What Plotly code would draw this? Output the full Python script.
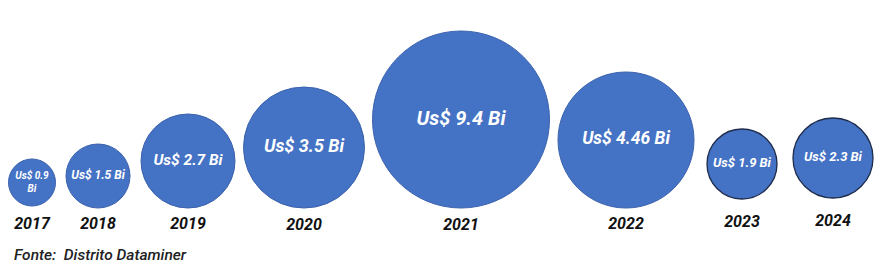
import plotly.graph_objects as go

# ---- data ----
years = ["2017", "2018", "2019", "2020", "2021", "2022", "2023", "2024"]
values_bi = [0.9, 1.5, 2.7, 3.5, 9.4, 4.46, 1.9, 2.3]
value_labels = ["Us$ 0.9<br>Bi", "Us$ 1.5 Bi", "Us$ 2.7 Bi", "Us$ 3.5 Bi",
                "Us$ 9.4 Bi", "Us$ 4.46 Bi", "Us$ 1.9 Bi", "Us$ 2.3 Bi"]
source_text = "Fonte:\u00a0 Distrito Dataminer"

# ---- style (pixel layout) ----
W, H = 888, 270
diameters = [47, 64, 94, 121, 177, 136, 70, 80]
gaps = [10.5, 11, 8.5, 8, 8.5, 13, 16]
first_left = 8.5
bottoms = [206, 208, 208, 208, 208, 208, 199, 198]
year_label_y = [225, 225, 225, 226, 226, 225, 223, 222]
label_sizes = [10, 12, 15.5, 18, 20, 17.5, 13, 13]
line_colors = ["#3b62ad"] * 6 + ["#1e2b4a"] * 2
line_widths = [1] * 6 + [1.3] * 2

# compute centres from diameters and gaps
centers_x = []
left = first_left
for i, d in enumerate(diameters):
    centers_x.append(left + d / 2)
    left += d + (gaps[i] if i < len(gaps) else 0)
centers_y = [b - d / 2 for b, d in zip(bottoms, diameters)]

fig = go.Figure()
fig.add_trace(go.Scatter(
    x=centers_x, y=centers_y, mode="markers+text",
    marker=dict(size=diameters, color="#4472C4",
                line=dict(color=line_colors, width=line_widths), opacity=1),
    text=value_labels, textposition="middle center",
    textfont=dict(family="Roboto", size=label_sizes, color="white",
                  weight="bold", style="italic"),
    customdata=values_bi, hoverinfo="skip", showlegend=False,
))
fig.add_trace(go.Scatter(
    x=centers_x, y=year_label_y, mode="text", text=years,
    textposition="middle center",
    textfont=dict(family="Roboto", size=16, color="#111111",
                  weight="bold", style="italic"),
    hoverinfo="skip", showlegend=False,
))
fig.add_annotation(x=12, y=255, xref="x", yref="y", text=source_text,
                   showarrow=False, xanchor="left", yanchor="middle",
                   font=dict(family="Roboto", size=15.5, color="#222222",
                             style="italic", weight=500))

fig.update_layout(
    width=W, height=H, margin=dict(l=0, r=0, t=0, b=0),
    paper_bgcolor="white", plot_bgcolor="white",
    xaxis=dict(range=[0, W], visible=False, fixedrange=True),
    yaxis=dict(range=[H, 0], visible=False, fixedrange=True),
)
fig.write_html("out.html")
